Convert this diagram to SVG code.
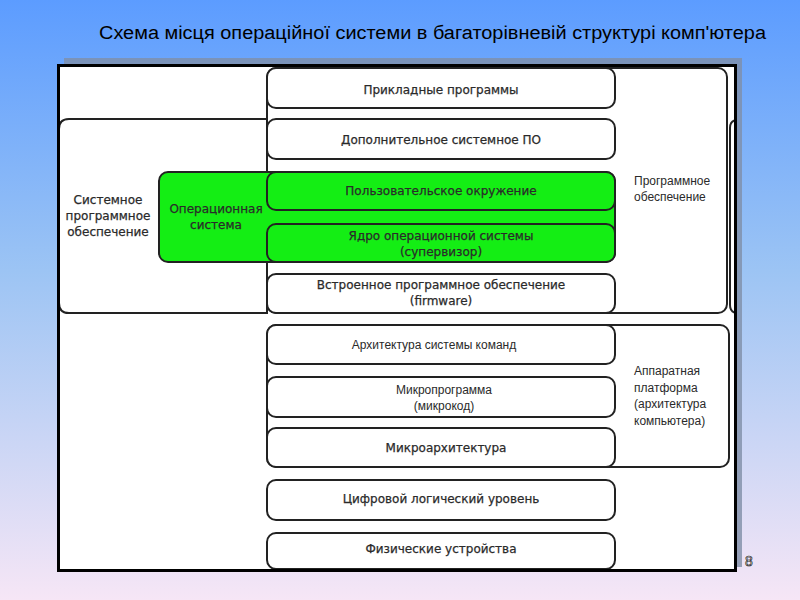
<svg xmlns="http://www.w3.org/2000/svg" width="800" height="600" viewBox="0 0 800 600">
<defs>
<linearGradient id="bg" x1="0" y1="0" x2="0" y2="1">
<stop offset="0" stop-color="#5c9cff"/>
<stop offset="0.45" stop-color="#9cc4f4"/>
<stop offset="1" stop-color="#f6e6f6"/>
</linearGradient>
<clipPath id="fr"><rect x="60" y="67" width="674" height="502"/></clipPath>
<style>
.b{fill:#fff;stroke:#222;stroke-width:2}
.g{fill:#14ee14;stroke:#222;stroke-width:2}
.d{font-family:"DejaVu Sans",sans-serif;font-size:12px;fill:#2a2a2a;stroke:#2a2a2a;stroke-width:0.25;text-anchor:middle}
.a{font-family:"Liberation Sans",Arial,sans-serif;font-size:12px;fill:#2a2a2a}
.ln{fill:none;stroke:#222;stroke-width:2}
</style>
</defs>
<rect x="0" y="0" width="800" height="600" fill="url(#bg)"/>
<text x="99" y="39" font-family="Liberation Sans, Arial, sans-serif" font-size="18" fill="#000" textLength="667" lengthAdjust="spacingAndGlyphs">Схема  місця  операційної  системи  в багаторівневій  структурі комп'ютера</text>
<rect x="64" y="58" width="678" height="509" fill="#7f8fa8" opacity="0.8"/>
<rect x="58.5" y="65.5" width="677" height="505" fill="#fff" stroke="#000" stroke-width="3"/>
<text x="745" y="566" font-family="Liberation Sans, Arial, sans-serif" font-size="14" fill="#fff" stroke="#000" stroke-width="0.6">8</text>
<g clip-path="url(#fr)">
<g id="programmnoe">
<rect class="b" x="267" y="68" width="460" height="245" rx="9"/>
<text class="a" x="634" y="185">Программное</text>
<text class="a" x="634" y="201">обеспечение</text>
</g>
<g id="partial-right">
<path class="ln" d="M745 120 H738 Q730 120 730 128 V305 Q730 313 738 313 H745"/>
</g>
<g id="sistemnoe">
<path class="b" d="M267 119 H69 Q59 119 59 129 V303 Q59 313 69 313 H267 Z"/>
<text class="d" x="108" y="204">Системное</text>
<text class="d" x="108" y="220">программное</text>
<text class="d" x="108" y="236">обеспечение</text>
</g>
<g id="apparatnaya">
<rect class="b" x="267" y="325" width="462" height="142" rx="9"/>
<text class="a" x="634" y="375">Аппаратная</text>
<text class="a" x="634" y="392">платформа</text>
<text class="a" x="634" y="408">(архитектура</text>
<text class="a" x="634" y="425">компьютера)</text>
</g>
<g id="os">
<rect class="g" x="159" y="172" width="456" height="90" rx="9"/>
<text class="d" x="216" y="213">Операционная</text>
<text class="d" x="216" y="229">система</text>
</g>
<g id="prikladnye">
<rect class="b" x="267" y="68" width="348" height="40" rx="9"/>
<text class="d" x="441" y="94">Прикладные программы</text>
</g>
<g id="dop">
<rect class="b" x="267" y="119" width="348" height="40" rx="9"/>
<text class="d" x="441" y="144">Дополнительное системное ПО</text>
</g>
<g id="polz">
<rect class="g" x="267" y="172" width="348" height="38" rx="9"/>
<text class="d" x="441" y="195">Пользовательское окружение</text>
</g>
<g id="yadro">
<rect class="g" x="267" y="224" width="348" height="38" rx="9"/>
<text class="d" x="441" y="240">Ядро операционной системы</text>
<text class="d" x="441" y="256">(супервизор)</text>
</g>
<g id="firmware">
<rect class="b" x="267" y="274" width="348" height="39" rx="9"/>
<text class="d" x="441" y="289">Встроенное программное обеспечение</text>
<text class="d" x="441" y="305">(firmware)</text>
</g>
<g id="isa">
<rect class="b" x="267" y="325" width="348" height="39" rx="9"/>
<text class="a" x="434" y="349" text-anchor="middle">Архитектура системы команд</text>
</g>
<g id="mikroprog">
<rect class="b" x="267" y="377" width="348" height="40" rx="9"/>
<text class="a" x="444" y="394" text-anchor="middle">Микропрограмма</text>
<text class="a" x="444" y="410" text-anchor="middle">(микрокод)</text>
</g>
<g id="mikroarch">
<rect class="b" x="267" y="428" width="348" height="39" rx="9"/>
<text class="d" x="446" y="452">Микроархитектура</text>
</g>
<g id="cifr">
<rect class="b" x="267" y="480" width="348" height="40" rx="9"/>
<text class="d" x="441" y="503">Цифровой логический уровень</text>
</g>
<g id="fiz">
<rect class="b" x="267" y="533" width="348" height="36" rx="9"/>
<text class="d" x="441" y="553">Физические устройства</text>
</g>
</g>
<g id="connectors"></g>
</svg>
